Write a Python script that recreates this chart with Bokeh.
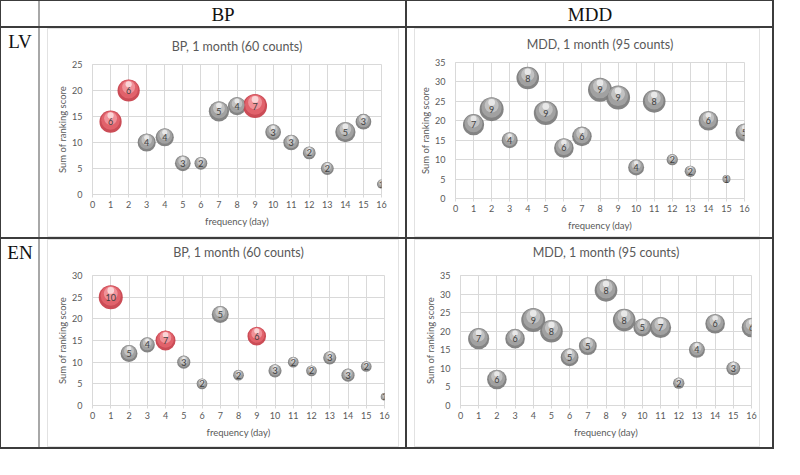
import math
from bokeh.plotting import figure
from bokeh.layouts import row, column
from bokeh.models import Div, Range1d, FixedTicker
from bokeh.embed import file_html
from bokeh.resources import INLINE
from bokeh.core.properties import value

# ---------------- data ----------------
days = list(range(1, 17))
x_ticks = list(range(0, 17))

col_headers = ["BP", "MDD"]
row_headers = ["LV", "EN"]

lv_bp_title = "BP, 1 month (60 counts)"
lv_bp_score = [14, 20, 10, 11, 6, 6, 16, 17, 17, 12, 10, 8, 5, 12, 14, 2]
lv_bp_count = [6, 6, 4, 4, 3, 2, 5, 4, 7, 3, 3, 2, 2, 5, 3, 1]
lv_bp_red_days = [1, 2, 9]

lv_mdd_title = "MDD, 1 month (95 counts)"
lv_mdd_score = [19, 23, 15, 31, 22, 13, 16, 28, 26, 8, 25, 10, 7, 20, 5, 17]
lv_mdd_count = [7, 9, 4, 8, 9, 6, 6, 9, 9, 4, 8, 2, 2, 6, 1, 5]
lv_mdd_red_days = []

en_bp_title = "BP, 1 month (60 counts)"
en_bp_score = [25, 12, 14, 15, 10, 5, 21, 7, 16, 8, 10, 8, 11, 7, 9, 2]
en_bp_count = [10, 5, 4, 7, 3, 2, 5, 2, 6, 3, 2, 2, 3, 3, 2, 1]
en_bp_red_days = [1, 4, 9]

en_mdd_title = "MDD, 1 month (95 counts)"
en_mdd_score = [18, 7, 18, 23, 20, 13, 16, 31, 23, 21, 21, 6, 15, 22, 10, 21]
en_mdd_count = [7, 6, 6, 9, 8, 5, 5, 8, 8, 5, 7, 2, 4, 6, 3, 6]
en_mdd_red_days = []

x_label = "frequency (day)"
y_label = "Sum of ranking score"

# ---------------- style ----------------
FONT = "Lato"
SERIF = "Liberation Serif"
DARK = "#3c3c3c"
GRAYLINE = "#a8a8a8"
GRID = "#d9d9d9"
BOX = "#e2e2e2"
TXT = "#595959"
D_MAX = 24.0
CELL_W = 365
BOX_INSET = 8
TITLE_H = 28

GRAY_LAYERS = ["#7d7d7d", "#a2a2a2", "#c4c4c4", "#eeeeee"]
RED_LAYERS = ["#c8424d", "#e2636d", "#f0959c", "#fcdfe1"]


def bar(w, h, color):
    return Div(width=w, height=h, margin=0, styles={"background-color": color})


def gap(w, h):
    return Div(width=w, height=h, margin=0)


def text_cell(w, h, txt, tx, ty, font=SERIF, size="19px", color="#111111"):
    p = figure(width=w, height=h, x_range=Range1d(0, w), y_range=Range1d(h, 0),
               toolbar_location=None, output_backend="svg", min_border=0,
               x_axis_type=None, y_axis_type=None, outline_line_color=None,
               background_fill_color="white", border_fill_color="white", margin=0)
    p.grid.visible = False
    if txt:
        p.text(x=[tx], y=[ty], text=[txt], text_align="center", text_baseline="middle",
               text_font=value(font), text_font_size=size, text_color=color)
    return p


def bubble_chart(title, scores, counts, red_days, ymax, H, fl, fr, ft, fb,
                 title_x, title_y, cw):
    frame_w = CELL_W - fl - fr
    ml = fl - BOX_INSET
    mr = cw - ml - frame_w
    ch = H - TITLE_H - 1
    p = figure(width=cw, height=ch, x_range=Range1d(0, 16), y_range=Range1d(0, ymax),
               min_border_left=ml, min_border_right=mr, min_border_top=ft - TITLE_H,
               min_border_bottom=fb - 1,
               toolbar_location=None, output_backend="svg", outline_line_color=GRID,
               background_fill_color="white", border_fill_color="white", margin=0)
    fh = H - ft - fb
    ppu = fh / ymax
    vmax = max(counts)
    red = [d in red_days for d in days]
    diam = [D_MAX * math.sqrt(c / vmax) for c in counts]
    fracs = [(1.0, 0.0), (0.84, 0.06), (0.58, 0.15), (0.28, 0.28)]
    for li, (f, up) in enumerate(fracs):
        ys = [s + up * d / ppu for s, d in zip(scores, diam)]
        cols = [(RED_LAYERS if r else GRAY_LAYERS)[li] for r in red]
        p.scatter(x=days, y=ys, size=[d * f for d in diam], marker="circle",
                  fill_color=cols, line_color=None, fill_alpha=0.95 if li < 3 else 0.85)
    p.text(x=days, y=scores, text=[str(c) for c in counts], text_align="center",
           text_baseline="middle", text_font=value(FONT), text_font_size="9px",
           text_color="#404040")

    p.xaxis.ticker = FixedTicker(ticks=x_ticks)
    p.yaxis.ticker = FixedTicker(ticks=list(range(0, ymax + 1, 5)))
    p.xgrid.grid_line_color = GRID
    p.ygrid.grid_line_color = GRID
    for ax in (p.xaxis[0], p.yaxis[0]):
        ax.axis_line_color = GRID
        ax.minor_tick_line_color = None
        ax.major_label_text_font = FONT
        ax.major_label_text_font_size = "9px"
        ax.major_label_text_color = TXT
        ax.axis_label_text_font = FONT
        ax.axis_label_text_font_size = "9.5px"
        ax.axis_label_text_font_style = "normal"
        ax.axis_label_text_color = TXT
    p.xaxis.major_tick_line_color = GRID
    p.xaxis.major_tick_out = 3
    p.xaxis.major_tick_in = 0
    p.xaxis.major_label_standoff = 3
    p.xaxis.axis_label = x_label
    p.xaxis.axis_label_standoff = 5
    p.yaxis.major_tick_line_color = None
    p.yaxis.major_label_standoff = 4
    p.yaxis.axis_label = y_label
    p.yaxis.axis_label_standoff = 1

    head = text_cell(cw, TITLE_H - 1, title, title_x - BOX_INSET, title_y - 1,
                     font=FONT, size="12.5px", color=TXT)
    inner = column(bar(cw, 1, BOX), head, p, bar(cw, 1, BOX), spacing=0, margin=0)
    right_gap = CELL_W - (BOX_INSET - 1) - 1 - cw - 1
    return row(gap(BOX_INSET - 1, H), bar(1, H, BOX), inner, bar(1, H, BOX),
               gap(right_gap, H), spacing=0, margin=0)


lv_bp = bubble_chart(lv_bp_title, lv_bp_score, lv_bp_count, lv_bp_red_days, 25,
                     209, 52, 24, 36, 43, 183, 17.5, 350)
lv_mdd = bubble_chart(lv_mdd_title, lv_mdd_score, lv_mdd_count, lv_mdd_red_days, 35,
                      209, 48, 28, 34, 39, 180, 16, 344)
en_bp = bubble_chart(en_bp_title, en_bp_score, en_bp_count, en_bp_red_days, 30,
                     208, 52, 21, 36, 42, 183, 13, 350)
en_mdd = bubble_chart(en_mdd_title, en_mdd_score, en_mdd_count, en_mdd_red_days, 35,
                      208, 53, 21, 36, 42, 180, 13, 344)

TOTAL_W = 1 + 37 + 2 + CELL_W + 2 + CELL_W + 2

header = row(bar(1, 25, DARK), text_cell(37, 25, "", 0, 0), bar(2, 25, GRAYLINE),
             text_cell(CELL_W, 25, col_headers[0], 182.5, 13), bar(2, 25, DARK),
             text_cell(CELL_W, 25, col_headers[1], 182.5, 13), bar(2, 25, DARK),
             spacing=0, margin=0)
row_lv = row(bar(1, 209, DARK), text_cell(37, 209, row_headers[0], 18.5, 13),
             bar(2, 209, GRAYLINE), lv_bp, bar(2, 209, DARK), lv_mdd, bar(2, 209, DARK),
             spacing=0, margin=0)
row_en = row(bar(1, 208, DARK), text_cell(37, 208, row_headers[1], 18.5, 12.5),
             bar(2, 208, GRAYLINE), en_bp, bar(2, 208, DARK), en_mdd, bar(2, 208, DARK),
             spacing=0, margin=0)

page = column(bar(TOTAL_W, 1, DARK), header, bar(TOTAL_W, 2, DARK), row_lv,
              bar(TOTAL_W, 2, DARK), row_en, bar(TOTAL_W, 2, DARK), spacing=0, margin=0)

open("out.html", "w").write(file_html(page, INLINE))
